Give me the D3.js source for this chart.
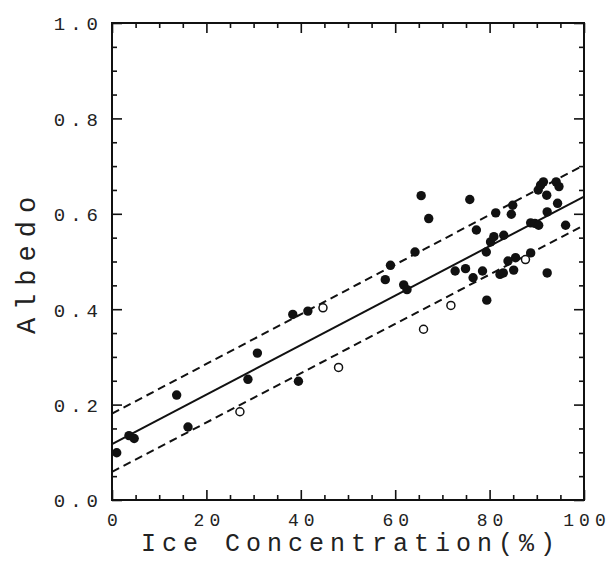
<!DOCTYPE html>
<html>
<head>
<meta charset="utf-8">
<script src="https://cdn.jsdelivr.net/npm/d3@7"></script>
<style>
  html, body { margin: 0; padding: 0; background: #fff; }
  svg { display: block; }
  .tick-label { font-family: "Liberation Mono", "DejaVu Sans Mono", monospace; fill: #222; }
  .axis-title { font-family: "Liberation Mono", "DejaVu Sans Mono", monospace; fill: #222; }
</style>
</head>
<body>
<div id="chart"></div>
<script>
// ice concentration (%) vs albedo, filled dots
const solidConc = [1.0, 3.6, 4.7, 13.7, 16.1, 28.8, 30.8, 38.3, 39.5, 41.5,
  57.9, 59.0, 61.8, 62.5, 64.2, 65.5, 67.1, 72.7, 74.9, 75.8,
  76.5, 77.2, 78.5, 79.3, 79.4, 80.2, 80.9, 81.3, 82.2, 82.9,
  83.0, 83.9, 84.6, 84.9, 85.1, 85.5, 88.7, 88.7, 89.6, 90.4,
  90.3, 90.8, 91.4, 92.1, 92.2, 92.2, 94.1, 94.7, 94.4, 96.1];
const solidAlbedo = [0.099, 0.135, 0.129, 0.220, 0.153, 0.253, 0.308, 0.389, 0.249, 0.396,
  0.462, 0.492, 0.451, 0.441, 0.520, 0.638, 0.590, 0.480, 0.485, 0.630,
  0.466, 0.566, 0.480, 0.520, 0.419, 0.541, 0.552, 0.602, 0.473, 0.476,
  0.555, 0.501, 0.599, 0.618, 0.482, 0.508, 0.518, 0.581, 0.580, 0.576,
  0.650, 0.660, 0.667, 0.639, 0.604, 0.476, 0.667, 0.657, 0.622, 0.576];

// open circles
const openConc = [27.1, 44.7, 48.0, 66.0, 71.8, 87.6];
const openAlbedo = [0.185, 0.403, 0.278, 0.358, 0.408, 0.504];

// regression line and its +/- band (end points)
const fitConc = [0, 100];
const fitMid = [0.117, 0.636];
const fitUpper = [0.181, 0.702];
const fitLower = [0.059, 0.576];

const xMajor = [0, 20, 40, 60, 80, 100];
const xMinor = [5, 10, 15, 25, 30, 35, 45, 50, 55, 65, 70, 75, 85, 90, 95];
const yMajor = [0.0, 0.2, 0.4, 0.6, 0.8, 1.0];
const yMinor = [0.05, 0.1, 0.15, 0.25, 0.3, 0.35, 0.45, 0.5, 0.55, 0.65, 0.7, 0.75, 0.85, 0.9, 0.95];

const width = 610, height = 570;
const margin = { left: 112, right: 584, top: 23, bottom: 500 };

const svg = d3.select('#chart').append('svg')
  .attr('width', width)
  .attr('height', height);

svg.append('rect').attr('width', width).attr('height', height).attr('fill', '#fff');

const x = d3.scaleLinear().domain([0, 100]).range([margin.left, margin.right]);
const y = d3.scaleLinear().domain([0, 1]).range([margin.bottom, margin.top]);

// axes: inward ticks on all four sides
function styleAxis(g) {
  g.select('.domain').remove();
  g.selectAll('.tick line').attr('stroke', '#111').attr('stroke-width', 1.6);
}

const majorLen = 10, minorLen = 5;

svg.append('g').attr('transform', `translate(0,${margin.bottom})`)
  .call(d3.axisBottom(x).tickValues(xMinor).tickSize(-minorLen).tickFormat(''))
  .call(styleAxis);
const xAxis = svg.append('g').attr('transform', `translate(0,${margin.bottom})`)
  .call(d3.axisBottom(x).tickValues(xMajor).tickSize(-majorLen).tickPadding(0).tickFormat(d3.format('d')))
  .call(styleAxis);
xAxis.selectAll('.tick text')
  .attr('class', 'tick-label')
  .attr('y', 26)
  .attr('dy', 0)
  .attr('dx', 2.5)
  .style('font-size', '18px')
  .style('letter-spacing', '5px');

svg.append('g').attr('transform', `translate(0,${margin.top})`)
  .call(d3.axisTop(x).tickValues(xMinor).tickSize(-minorLen).tickFormat(''))
  .call(styleAxis);
svg.append('g').attr('transform', `translate(0,${margin.top})`)
  .call(d3.axisTop(x).tickValues(xMajor).tickSize(-majorLen).tickFormat(''))
  .call(styleAxis);

svg.append('g').attr('transform', `translate(${margin.left},0)`)
  .call(d3.axisLeft(y).tickValues(yMinor).tickSize(-minorLen).tickFormat(''))
  .call(styleAxis);
const yAxis = svg.append('g').attr('transform', `translate(${margin.left},0)`)
  .call(d3.axisLeft(y).tickValues(yMajor).tickSize(-majorLen).tickFormat(d3.format('.1f')))
  .call(styleAxis);
yAxis.selectAll('.tick text')
  .attr('class', 'tick-label')
  .attr('x', -14)
  .attr('dx', 5)
  .attr('dy', '0.36em')
  .style('font-size', '19px')
  .style('letter-spacing', '5px');

svg.append('g').attr('transform', `translate(${margin.right},0)`)
  .call(d3.axisRight(y).tickValues(yMinor).tickSize(-minorLen).tickFormat(''))
  .call(styleAxis);
svg.append('g').attr('transform', `translate(${margin.right},0)`)
  .call(d3.axisRight(y).tickValues(yMajor).tickSize(-majorLen).tickFormat(''))
  .call(styleAxis);

// frame
svg.append('rect')
  .attr('x', margin.left).attr('y', margin.top)
  .attr('width', margin.right - margin.left).attr('height', margin.bottom - margin.top)
  .attr('fill', 'none')
  .attr('stroke', '#111')
  .attr('stroke-width', 2);

// fit lines
const line = d3.line().x(d => x(d[0])).y(d => y(d[1]));
const fits = [
  { vals: fitMid, dash: null },
  { vals: fitUpper, dash: '8,5' },
  { vals: fitLower, dash: '8,5' }
];
fits.forEach(f => {
  svg.append('path')
    .datum(fitConc.map((c, i) => [c, f.vals[i]]))
    .attr('d', line)
    .attr('fill', 'none')
    .attr('stroke', '#111')
    .attr('stroke-width', 2)
    .attr('stroke-dasharray', f.dash);
});

// points
svg.append('g').selectAll('circle')
  .data(solidConc.map((c, i) => [c, solidAlbedo[i]]))
  .join('circle')
  .attr('cx', d => x(d[0]))
  .attr('cy', d => y(d[1]))
  .attr('r', 4.7)
  .attr('fill', '#111');

svg.append('g').selectAll('circle')
  .data(openConc.map((c, i) => [c, openAlbedo[i]]))
  .join('circle')
  .attr('cx', d => x(d[0]))
  .attr('cy', d => y(d[1]))
  .attr('r', 4)
  .attr('fill', '#fff')
  .attr('stroke', '#111')
  .attr('stroke-width', 1.5);

// axis titles
svg.append('text')
  .attr('class', 'axis-title')
  .attr('x', (margin.left + margin.right) / 2 + 3)
  .attr('y', 551)
  .attr('text-anchor', 'middle')
  .style('font-size', '25px')
  .style('letter-spacing', '6px')
  .text('Ice Concentration(%)');

svg.append('text')
  .attr('class', 'axis-title')
  .attr('transform', `translate(35,${(margin.top + margin.bottom) / 2 + 4}) rotate(-90)`)
  .attr('text-anchor', 'middle')
  .attr('dx', 4)
  .style('font-size', '27px')
  .style('letter-spacing', '8px')
  .text('Albedo');
</script>
</body>
</html>
